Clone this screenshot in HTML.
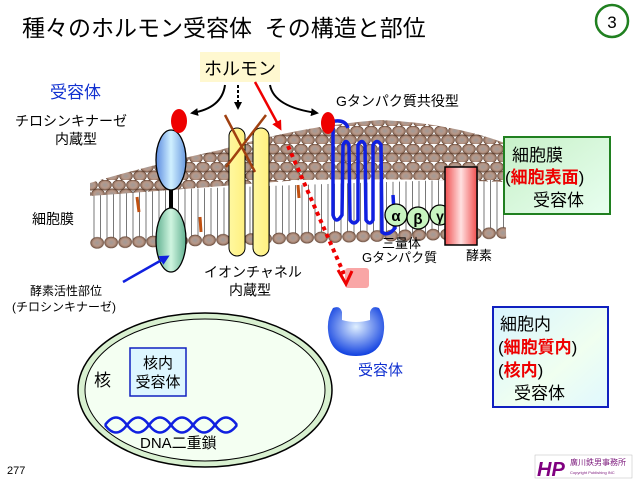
<!DOCTYPE html>
<html><head><meta charset="utf-8"><style>
body{margin:0;background:#fff;width:640px;height:480px;overflow:hidden}
svg text{font-family:"Liberation Sans","Noto Sans CJK JP",sans-serif}
</style></head><body>
<svg width="640" height="480" viewBox="0 0 640 480" xmlns="http://www.w3.org/2000/svg">
<defs>
<radialGradient id="head" cx="50%" cy="50%" r="55%"><stop offset="0" stop-color="#a09a98"/><stop offset="0.55" stop-color="#b89888"/><stop offset="1" stop-color="#7a5a48"/></radialGradient>
<pattern id="heads" width="14" height="18" patternUnits="userSpaceOnUse">
<ellipse cx="7" cy="5" rx="6.5" ry="5.2" fill="url(#head)" stroke="#5a3a2a" stroke-width="0.6"/>
<ellipse cx="0" cy="14" rx="6.5" ry="5.2" fill="url(#head)" stroke="#5a3a2a" stroke-width="0.6"/>
<ellipse cx="14" cy="14" rx="6.5" ry="5.2" fill="url(#head)" stroke="#5a3a2a" stroke-width="0.6"/>
</pattern>
<pattern id="row" width="14" height="20" patternUnits="userSpaceOnUse">
<ellipse cx="7" cy="7" rx="6.5" ry="5.5" fill="url(#head)" stroke="#5a3a2a" stroke-width="0.6"/>
</pattern>
<pattern id="tails" width="6.5" height="10" patternUnits="userSpaceOnUse">
<line x1="3" y1="0" x2="3" y2="10" stroke="#555" stroke-width="0.8"/>
</pattern>
<linearGradient id="blue1" x1="0" x2="1"><stop offset="0" stop-color="#5a8ae0"/><stop offset="0.5" stop-color="#d0f0ff"/><stop offset="1" stop-color="#6a9ae0"/></linearGradient>
<linearGradient id="green1" x1="0" x2="1"><stop offset="0" stop-color="#60b090"/><stop offset="0.5" stop-color="#d0f5e0"/><stop offset="1" stop-color="#60b090"/></linearGradient>
<linearGradient id="yel" x1="0" x2="1"><stop offset="0" stop-color="#fff8a0"/><stop offset="1" stop-color="#fff080"/></linearGradient>
<linearGradient id="enz" x1="0" x2="1"><stop offset="0" stop-color="#f05050"/><stop offset="0.5" stop-color="#ffe0e0"/><stop offset="1" stop-color="#f05050"/></linearGradient>
<radialGradient id="cup" cx="50%" cy="40%" r="60%"><stop offset="0" stop-color="#e0f0ff"/><stop offset="1" stop-color="#1040e0"/></radialGradient>
<linearGradient id="boxg" x1="0" y1="0" x2="1" y2="1"><stop offset="0" stop-color="#c8f0c8"/><stop offset="1" stop-color="#e8fff0"/></linearGradient>
<linearGradient id="boxb" x1="0" y1="0" x2="1" y2="1"><stop offset="0" stop-color="#d8f4ff"/><stop offset="0.6" stop-color="#f0fff0"/><stop offset="1" stop-color="#e0f8ff"/></linearGradient>
<clipPath id="dome"><path d="M90,183 Q150,165 220,150 Q300,126 380,120 Q450,123 505,143 L505,182 Q400,178 300,180 Q200,188 90,196 Z"/></clipPath>
<marker id="ab" markerWidth="8" markerHeight="8" refX="6" refY="4" orient="auto" markerUnits="userSpaceOnUse"><path d="M0,0 L8,4 L0,8 Z" fill="#000"/></marker>
<marker id="ar" markerWidth="10" markerHeight="10" refX="7" refY="5" orient="auto" markerUnits="userSpaceOnUse"><path d="M0,0 L10,5 L0,10 Z" fill="#e00"/></marker>
<marker id="abl" markerWidth="10" markerHeight="10" refX="7" refY="5" orient="auto" markerUnits="userSpaceOnUse"><path d="M0,0 L10,5 L0,10 Z" fill="#1020e0"/></marker>
</defs>

<text x="22" y="36" font-size="23">種々のホルモン受容体&#160;&#160;その構造と部位</text>
<circle cx="612" cy="21" r="16" fill="#fff" stroke="#208020" stroke-width="2.5"/>
<text x="612" y="28" font-size="17" text-anchor="middle">3</text>

<!-- membrane -->
<path d="M92,192 L505,178 L505,232 L92,242 Z" fill="url(#tails)"/>
<g clip-path="url(#dome)">
<rect x="85" y="110" width="425" height="95" fill="url(#heads)"/>
</g>
<g transform="translate(90,236) rotate(-1.4)"><rect x="0" y="0" width="416" height="15" fill="url(#row)"/></g>
<g stroke="#c05010" stroke-width="3"><line x1="137" y1="197" x2="139" y2="212"/><line x1="200" y1="217" x2="201" y2="232"/><line x1="298" y1="185" x2="299" y2="198"/></g>

<!-- hormone -->
<rect x="200" y="52" width="80" height="30" fill="#fff8d0"/>
<text x="240" y="75" font-size="18" text-anchor="middle">ホルモン</text>
<path d="M225,85 Q222,108 192,113" fill="none" stroke="#000" stroke-width="2" marker-end="url(#ab)"/>
<line x1="238" y1="85" x2="238" y2="108" stroke="#000" stroke-width="2" stroke-dasharray="3,2" marker-end="url(#ab)"/>
<path d="M270,85 Q274,107 317,113" fill="none" stroke="#000" stroke-width="2" marker-end="url(#ab)"/>
<line x1="255" y1="82" x2="280" y2="128" stroke="#e00" stroke-width="2.5" marker-end="url(#ar)"/>

<text x="50" y="98" font-size="17" fill="#1030d0">受容体</text>
<text x="15" y="126" font-size="14">チロシンキナーゼ</text>
<text x="55" y="144" font-size="14">内蔵型</text>
<text x="336" y="106" font-size="14">Gタンパク質共役型</text>
<text x="32" y="224" font-size="14">細胞膜</text>

<!-- tyrosine kinase -->
<line x1="171" y1="180" x2="171" y2="215" stroke="#000" stroke-width="4"/>
<ellipse cx="171" cy="160" rx="15" ry="30" fill="url(#blue1)" stroke="#000" stroke-width="1.3"/>
<ellipse cx="171" cy="240" rx="15" ry="32" fill="url(#green1)" stroke="#000" stroke-width="1.3"/>
<ellipse cx="179" cy="121" rx="8" ry="12" fill="#e00"/>
<line x1="123" y1="282" x2="167" y2="257" stroke="#1020e0" stroke-width="2.5" marker-end="url(#abl)"/>
<text x="30" y="295" font-size="12">酵素活性部位</text>
<text x="12" y="311" font-size="12">(チロシンキナーゼ)</text>

<!-- ion channel -->
<rect x="229" y="128" width="16" height="128" rx="8" fill="url(#yel)" stroke="#000" stroke-width="1"/>
<rect x="253" y="128" width="16" height="128" rx="8" fill="url(#yel)" stroke="#000" stroke-width="1"/>
<line x1="225" y1="115" x2="255" y2="172" stroke="#a04010" stroke-width="2.5"/>
<line x1="266" y1="115" x2="226" y2="167" stroke="#a04010" stroke-width="2.5"/>
<text x="204" y="277" font-size="14">イオンチャネル</text>
<text x="229" y="295" font-size="14">内蔵型</text>

<!-- red dotted -->
<line x1="288" y1="146" x2="344" y2="274" stroke="#e00" stroke-width="4" stroke-dasharray="4,4"/>
<rect x="345" y="268" width="24" height="20" rx="3" fill="#f89090" opacity="0.8"/>
<path d="M338,270 L346,284 L352,271" fill="none" stroke="#e00" stroke-width="3"/>

<!-- G protein receptor -->
<path d="M330,122 Q345,118 348,128 M333,125 L333,215 Q336,225 342,215 L343,145 Q346,138 349,145 L350,220 Q354,226 358,220 L358,145 Q362,138 365,145 L366,220 Q370,226 373,220 L373,145 Q377,138 381,145 L382,232 Q388,237 395,228 L393,195" fill="none" stroke="#1020e0" stroke-width="3.5"/>
<ellipse cx="328" cy="123" rx="7" ry="11" fill="#e00"/>
<circle cx="396" cy="215" r="11" fill="#c8f5c0" stroke="#000" stroke-width="1.3"/>
<circle cx="418" cy="218" r="11" fill="#c8f5c0" stroke="#000" stroke-width="1.3"/>
<circle cx="440" cy="215" r="10" fill="#c8f5c0" stroke="#000" stroke-width="1.3"/>
<text x="396" y="221" font-size="15" text-anchor="middle" font-family="Liberation Serif,serif" font-weight="bold">α</text>
<text x="418" y="224" font-size="15" text-anchor="middle" font-family="Liberation Serif,serif" font-weight="bold">β</text>
<text x="440" y="221" font-size="14" text-anchor="middle" font-family="Liberation Serif,serif" font-weight="bold">γ</text>
<text x="382" y="248" font-size="13">三量体</text>
<text x="362" y="262" font-size="13">Gタンパク質</text>
<rect x="445" y="167" width="32" height="78" fill="url(#enz)" stroke="#000" stroke-width="1.5"/>
<text x="466" y="260" font-size="13">酵素</text>

<!-- right boxes -->
<rect x="504" y="137" width="106" height="77" fill="url(#boxg)" stroke="#208020" stroke-width="2"/>
<text x="512" y="161" font-size="17">細胞膜</text>
<text x="505" y="183" font-size="17">(<tspan fill="#e00" font-weight="bold">細胞表面</tspan>)</text>
<text x="533" y="206" font-size="17">受容体</text>

<rect x="493" y="307" width="115" height="100" fill="url(#boxb)" stroke="#1020c0" stroke-width="2"/>
<text x="500" y="330" font-size="17">細胞内</text>
<text x="498" y="353" font-size="17">(<tspan fill="#e00" font-weight="bold">細胞質内</tspan>)</text>
<text x="498" y="376" font-size="17">(<tspan fill="#e00" font-weight="bold">核内</tspan>)</text>
<text x="514" y="399" font-size="17">受容体</text>

<!-- cup receptor -->
<path d="M333,308 Q327,318 328,330 Q330,356 356,356 Q382,356 384,330 Q385,318 379,308 Q372,305 370,312 L370,320 Q356,324 342,320 L342,312 Q340,305 333,308 Z" fill="url(#cup)"/>
<text x="358" y="375" font-size="15" fill="#1030d0">受容体</text>

<!-- nucleus -->
<ellipse cx="205" cy="390" rx="127" ry="77" fill="#d8f0d0" stroke="#000" stroke-width="1.5"/>
<ellipse cx="205" cy="390" rx="120" ry="71" fill="#f4fff2" stroke="#000" stroke-width="1"/>
<text x="94" y="386" font-size="17">核</text>
<rect x="130" y="348" width="56" height="48" fill="#ddf6ff" stroke="#1020c0" stroke-width="1.5"/>
<text x="158" y="368" font-size="15" text-anchor="middle">核内</text>
<text x="158" y="387" font-size="15" text-anchor="middle">受容体</text>
<path d="M105,425 Q116,410 127,425 T149,425 T171,425 T193,425 T215,425 T237,425" fill="none" stroke="#1020e0" stroke-width="2.5"/>
<path d="M105,425 Q116,440 127,425 T149,425 T171,425 T193,425 T215,425 T237,425" fill="none" stroke="#1020e0" stroke-width="2.5"/>
<text x="140" y="448" font-size="15">DNA二重鎖</text>

<text x="7" y="474" font-size="11">277</text>
<rect x="535" y="455" width="97" height="23" fill="#fff" stroke="#bbb" stroke-width="0.5"/>
<text x="537" y="476" font-size="20" font-weight="bold" font-style="italic" fill="#800080">HP</text>
<text x="570" y="465" font-size="8" fill="#802080">廣川鉄男事務所</text>
<text x="570" y="474" font-size="4" fill="#802080">Copyright Publishing INC</text>
</svg>
</body></html>
